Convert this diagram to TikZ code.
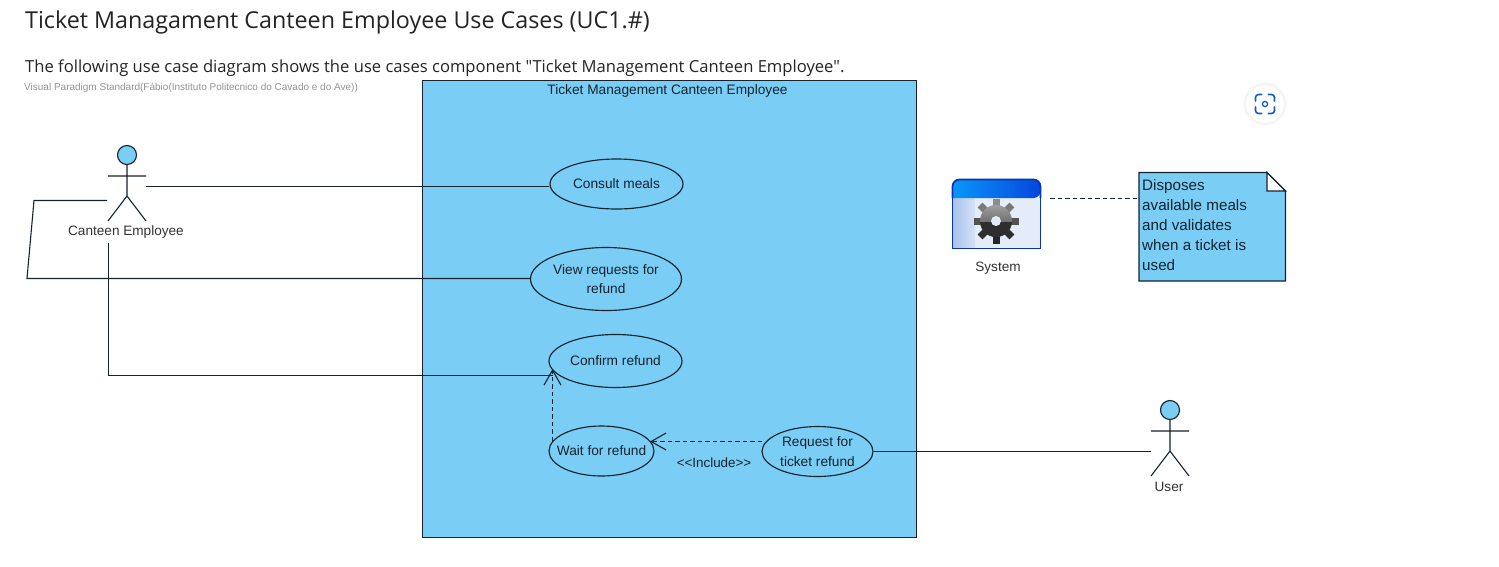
\documentclass[tikz,border=0pt]{standalone}
\usepackage{fontspec}
\setmainfont{Liberation Sans}
\newfontfamily\pagefont{Open Sans}
\usetikzlibrary{arrows.meta,shapes.geometric}
\definecolor{umlblue}{HTML}{7ACDF5}
\definecolor{umlline}{HTML}{14232E}
\definecolor{pageink}{HTML}{242424}
\definecolor{iconblue}{HTML}{0F5FC2}
\definecolor{winborder}{HTML}{0B34AE}
\definecolor{winbody}{HTML}{E4ECF9}
\definecolor{winsideA}{HTML}{A9C3EC}
\definecolor{winsideB}{HTML}{D5E2F6}
\definecolor{winheadA}{HTML}{0A96FA}
\definecolor{winheadB}{HTML}{0547DC}
\newcommand{\fs}[1]{\fontsize{#1}{#1}\selectfont}
\tikzset{
  conn/.style={draw=umlline,line width=1.1pt},
  dep/.style={conn,dashed,dash pattern=on 4.5pt off 3pt,-{Straight Barb[length=15pt,width=17pt,line width=1.1pt]}},
  usecase/.style={ellipse,draw=umlline,fill=umlblue,line width=1.15pt,inner xsep=-18pt,inner ysep=-10pt,align=center,text=umlline,font=\fs{13.7}},
  umllabel/.style={inner sep=0pt,text=black!80,font=\fs{13.6},align=center},
  actorline/.style={draw=umlline,line width=1.1pt},
  actorhead/.style={circle,draw=umlline,fill=umlblue,line width=1.15pt,minimum size=19pt,inner sep=0pt},
  pagetext/.style={inner sep=0pt,anchor=base west,text=pageink},
}
\newcommand{\actor}[3]{% name, x of body, y of head centre
  \node[actorhead] (#1head) at (#2,#3) {};
  \coordinate (#1hip) at (#2,#3+41);
  \coordinate (#1armL) at (#2-19,#3+21);
  \coordinate (#1armR) at (#2+19,#3+21);
  \coordinate (#1legL) at (#2-19,#3+66);
  \coordinate (#1legR) at (#2+19,#3+66);
  \draw[actorline] (#1head) -- (#1hip) (#1armL) -- (#1armR) (#1legL) -- (#1hip) -- (#1legR);
}
\begin{document}
\begin{tikzpicture}[x=1pt,y=-1pt]
\useasboundingbox (0,0) rectangle (1499,566);
\fill[white] (0,0) rectangle (1499,566);

% page text
\node[pagetext,font=\pagefont\fs{23.3}] (title) at (25,28) {Ticket Managament Canteen Employee Use Cases (UC1.\#)};
\node[pagetext,font=\pagefont\fs{16.6}] (intro) at (25,72) {The following use case diagram shows the use cases component "Ticket Management Canteen Employee".};
\node[pagetext,text=black!42,font=\fs{10}] (mark) at (24,90) {Visual Paradigm Standard(Fábio(Instituto Politecnico do Cavado e do Ave))};

% system boundary
\node[draw=umlline,fill=umlblue,line width=1.15pt,minimum width=494.5pt,minimum height=457pt,inner sep=0pt] (frame) at (669.5,309) {};
\node[inner sep=0pt,text=umlline,font=\fs{13.7}] (frametitle) at (667.5,91) {Ticket Management Canteen Employee};

% use cases
\node[usecase,minimum width=133pt,minimum height=50pt] (consult) at (616.5,184) {Consult meals};
\node[usecase,minimum width=151pt,minimum height=63pt] (view) at (606,279) {View requests for\\[5pt]refund};
\node[usecase,minimum width=133pt,minimum height=53pt] (confirm) at (615.5,361) {Confirm refund};
\node[usecase,minimum width=105pt,minimum height=50pt] (wait) at (601.5,451) {Wait for refund};
\node[usecase,minimum width=111pt,minimum height=50pt] (request) at (817.5,451.5) {Request for\\[6pt]ticket refund};

% actors
\actor{ce}{127}{155}
\node[umllabel] (celabel) at (126,232) {Canteen Employee};
\actor{us}{1170}{410}
\node[umllabel] (uslabel) at (1169,487) {User};

% free ends of the connectors
\coordinate (ceR) at (146,186.5);
\coordinate (ceL) at (107,200.5);
\coordinate (ceB) at (108.5,243);
\coordinate (bendA) at (34,200.5);
\coordinate (bendB) at (27,278.5);
\coordinate (bendC) at (108.5,375.5);
\coordinate (confirmIn) at (552.5,375.5);
\coordinate (confirmTip) at (552.5,369);
\coordinate (waitOut) at (552.5,441);
\coordinate (waitTip) at (650,441.5);
\coordinate (requestOut) at (762,441.5);
\coordinate (usHand) at (1151,451.5);

% connectors
\draw[conn] (ceR) -- (ceR -| consult.west);
\draw[conn] (ceL) -- (bendA) -- (bendB) -- (bendB -| view.west);
\draw[conn] (ceB) -- (bendC) -- (confirmIn);
\draw[dep] (waitOut) -- (confirmTip);
\draw[dep] (requestOut) -- (waitTip);
\draw[conn] (request.east) -- (usHand);
\node[inner sep=0pt,text=umlline,font=\fs{13.4}] (include) at (714,462.5) {<{}<Include>{}>};

% system icon
\node[inner sep=0pt,minimum width=89pt,minimum height=70pt] (system) at (996.5,214) {};
\fill[winbody] (953,198) rectangle (1040,248);
\shade[left color=winsideA,right color=winsideB] (953,198) rectangle (975,248);
\shade[left color=winheadA,right color=winheadB,rounded corners=7pt] (952.5,198) -- (952.5,179.5) -- (1040.5,179.5) -- (1040.5,198) [sharp corners] -- cycle;
\draw[draw=winborder,line width=1.7pt,rounded corners=7pt] (952.5,198) -- (952.5,179.5) -- (1040.5,179.5) -- (1040.5,198);
\draw[draw=winborder,line width=1.7pt] (952.5,198) -- (952.5,248.5) -- (1040.5,248.5) -- (1040.5,198);
\begin{scope}[shift={(996,221)}]
  \foreach \a/\c in {0/45,45/52,315/52,90/68,270/68,135/82,225/82,180/85} {
    \fill[black!\c,rotate=\a] (-3.5,-12) rectangle (3.5,-22.5);
  }
  \shade[top color=black!38,bottom color=black!72] (0,0) circle (16pt);
  \begin{scope}
    \clip (-20,1) rectangle (20,20);
    \fill[black!82] (0,0) circle (16pt);
  \end{scope}
  \fill[winbody] (0,0) circle (5pt);
\end{scope}
\node[umllabel] (systemlabel) at (998,268.5) {System};

% note
\coordinate (noteNW) at (1139,172.5);
\coordinate (noteFoldA) at (1267,172.5);
\coordinate (noteFoldB) at (1285.5,191);
\coordinate (noteSE) at (1285.5,281);
\coordinate (noteSW) at (1139,281);
\filldraw[draw=umlline,fill=umlblue,line width=1.15pt] (noteNW) -- (noteFoldA) -- (noteFoldB) -- (noteSE) -- (noteSW) -- cycle;
\filldraw[draw=umlline,fill=white,line width=1.15pt] (noteFoldA) -- (noteFoldB) -- (1267,191) -- cycle;
\node[inner sep=0pt,anchor=north west,align=left,text=umlline,font=\fontsize{15.2}{20}\selectfont] (note) at (1142,179) {Disposes\\available meals\\and validates\\when a ticket is\\used};
\coordinate (noteIn) at (1138,198.5);
\coordinate (systemOut) at (1050,198.5);
\draw[conn,dashed,dash pattern=on 4.5pt off 3pt] (systemOut) -- (noteIn);

% page button
\foreach \r/\o in {22/.015,21/.02,20/.025} \fill[black,opacity=\o] (1265,104) circle (\r pt);
\node[circle,fill=white,minimum size=38pt,inner sep=0pt] (lens) at (1265,104) {};
\begin{scope}[shift={(1265,104)},draw=iconblue,line width=1.6pt,line cap=round,rounded corners=3pt]
  \draw (-9.5,-3) -- (-9.5,-9.5) -- (-3.5,-9.5);
  \draw (3.5,-9.5) -- (9.5,-9.5) -- (9.5,-3);
  \draw (9.5,3) -- (9.5,9.5) -- (3.5,9.5);
  \draw (-3.5,9.5) -- (-9.5,9.5) -- (-9.5,3);
  \draw[line width=1.3pt,sharp corners] (0,0) circle (2.6pt);
\end{scope}
\end{tikzpicture}
\end{document}
